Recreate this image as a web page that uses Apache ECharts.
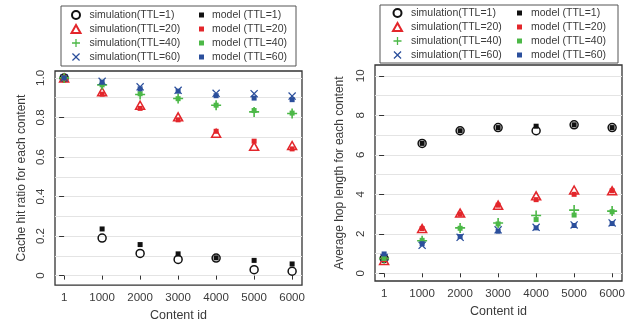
<!DOCTYPE html>
<html>
<head>
<meta charset="utf-8">
<script src="https://cdn.jsdelivr.net/npm/echarts@6/dist/echarts.min.js"></script>
<style>
  html, body { margin: 0; padding: 0; background: #fff; }
  #chart { width: 639px; height: 327px; }
</style>
</head>
<body>
<div id="chart"></div>
<script>
// x categories (content id)
const categories = ['1', '1000', '2000', '3000', '4000', '5000', '6000'];

// left panel: cache hit ratio
const hitSimTTL1 = [1.0, 0.19, 0.112, 0.082, 0.089, 0.03, 0.022];
const hitModelTTL1 = [1.0, 0.236, 0.157, 0.11, 0.09, 0.077, 0.059];
const hitSimTTL20 = [1.0, 0.93, 0.862, 0.803, 0.72, 0.654, 0.658];
const hitModelTTL20 = [1.0, 0.918, 0.846, 0.788, 0.73, 0.68, 0.641];
const hitSimTTL40 = [1.0, 0.965, 0.916, 0.896, 0.862, 0.828, 0.82];
const hitModelTTL40 = [1.0, 0.965, 0.92, 0.895, 0.862, 0.835, 0.822];
const hitSimTTL60 = [1.0, 0.983, 0.955, 0.937, 0.922, 0.92, 0.908];
const hitModelTTL60 = [1.0, 0.978, 0.945, 0.933, 0.91, 0.898, 0.89];

// right panel: average hop length
const hopSimTTL1 = [0.75, 6.58, 7.22, 7.38, 7.22, 7.52, 7.38];
const hopModelTTL1 = [0.8, 6.58, 7.22, 7.38, 7.45, 7.52, 7.38];
const hopSimTTL20 = [0.65, 2.27, 3.05, 3.45, 3.92, 4.22, 4.18];
const hopModelTTL20 = [0.7, 2.27, 3.0, 3.45, 3.73, 4.0, 4.18];
const hopSimTTL40 = [0.75, 1.65, 2.3, 2.55, 2.93, 3.2, 3.15];
const hopModelTTL40 = [0.75, 1.67, 2.28, 2.5, 2.72, 2.95, 3.12];
const hopSimTTL60 = [0.8, 1.42, 1.82, 2.2, 2.33, 2.45, 2.55];
const hopModelTTL60 = [0.98, 1.5, 1.86, 2.13, 2.3, 2.42, 2.52];

// tick labels and grid lines
const hitTicks = [0, 0.2, 0.4, 0.6, 0.8, 1.0];
const hitGrid = [0, 0.1, 0.2, 0.3, 0.4, 0.5, 0.6, 0.7, 0.8, 0.9, 1.0];
const hopTicks = [0, 2, 4, 6, 8, 10];
const hopGrid = [0, 1, 2, 3, 4, 5, 6, 7, 8, 9, 10];

const simNames = ['simulation(TTL=1)', 'simulation(TTL=20)', 'simulation(TTL=40)', 'simulation(TTL=60)'];
const modelNames = ['model (TTL=1)', 'model (TTL=20)', 'model (TTL=40)', 'model (TTL=60)'];

const FONT = '"Liberation Sans", Arial, sans-serif';
const TXT = '#3a3a3a';
const BLACK = '#111111';
const RED = '#e3262b';
const GREEN = '#4cb847';
const BLUE = '#2b4f9c';
const PLUS = 'path://M4.2,0H5.8V4.2H10V5.8H5.8V10H4.2V5.8H0V4.2H4.2Z';
const CROSS = 'path://M0,1.1L1.1,0L5,3.9L8.9,0L10,1.1L6.1,5L10,8.9L8.9,10L5,6.1L1.1,10L0,8.9L3.9,5Z';

const toPoints = (vals) => vals.map((v, i) => [i, v]);
const idx = categories.map((c, i) => i);

function xAxisFor(gridIndex) {
  return {
    type: 'value', gridIndex, min: -0.24, max: 6.26,
    name: 'Content id', nameLocation: 'middle', nameGap: 22,
    nameTextStyle: { fontFamily: FONT, fontSize: 12.5, color: TXT },
    axisLine: { show: false },
    axisTick: { show: true, length: 4, customValues: idx, lineStyle: { color: '#333', width: 1 } },
    axisLabel: {
      customValues: idx, margin: 7, fontFamily: FONT, fontSize: 11.5, color: TXT,
      formatter: (v) => categories[Math.round(v)]
    },
    splitLine: { show: false }
  };
}

function yAxisFor(gridIndex, min, max, ticks, name, nameGap, fmt) {
  return {
    type: 'value', gridIndex, min, max, position: 'left',
    name, nameLocation: 'middle', nameGap,
    nameTextStyle: { fontFamily: FONT, fontSize: 12, color: TXT },
    axisLine: { show: false },
    axisTick: { show: true, length: 5, customValues: ticks, lineStyle: { color: '#333', width: 1 } },
    axisLabel: {
      customValues: ticks, rotate: 90, margin: 8, fontFamily: FONT, fontSize: 11.5, color: TXT,
      formatter: fmt
    },
    splitLine: { show: false }
  };
}

// hidden axis only for the light grid lines
function gridAxisFor(gridIndex, min, max, lines) {
  return {
    type: 'value', gridIndex, min, max, position: 'left',
    axisLine: { show: false },
    axisTick: { show: false, customValues: lines },
    axisLabel: { show: false },
    splitLine: { show: true, lineStyle: { color: '#e4e4e4', width: 1 } }
  };
}

function simSeries(name, data, x, y, symbol, color, size) {
  const filled = symbol === PLUS || symbol === CROSS;
  return {
    name, type: 'scatter', xAxisIndex: x, yAxisIndex: y,
    data: toPoints(data), symbol, symbolSize: size,
    itemStyle: filled
      ? { color, opacity: 1 }
      : { color: 'rgba(255,255,255,0)', borderColor: color, borderWidth: 1.5, opacity: 1 },
    emphasis: { disabled: true }, z: 3
  };
}

function modelSeries(name, data, x, y, color) {
  return {
    name, type: 'scatter', xAxisIndex: x, yAxisIndex: y,
    data: toPoints(data), symbol: 'rect', symbolSize: 5,
    itemStyle: { color, opacity: 1 },
    emphasis: { disabled: true }, z: 4
  };
}

function panelSeries(x, y, s1, m1, s20, m20, s40, m40, s60, m60) {
  return [
    simSeries(simNames[0], s1, x, y, 'circle', BLACK, 8),
    simSeries(simNames[1], s20, x, y, 'triangle', RED, [9, 8]),
    simSeries(simNames[2], s40, x, y, PLUS, GREEN, 10),
    simSeries(simNames[3], s60, x, y, CROSS, BLUE, 8),
    modelSeries(modelNames[0], m1, x, y, BLACK),
    modelSeries(modelNames[1], m20, x, y, RED),
    modelSeries(modelNames[2], m40, x, y, GREEN),
    modelSeries(modelNames[3], m60, x, y, BLUE)
  ];
}

function legendFor(names, left, top, w, h, pad) {
  return {
    data: names, orient: 'vertical', left, top, padding: 0,
    itemWidth: w, itemHeight: h, itemGap: 0,
    selectedMode: false,
    textStyle: { fontFamily: FONT, fontSize: 10.5, color: TXT, lineHeight: 14, padding: [0, 0, 0, pad] }
  };
}

const chart = echarts.init(document.getElementById('chart'), null, { renderer: 'canvas' });

chart.setOption({
  backgroundColor: '#ffffff',
  animation: false,
  grid: [
    { left: 55, top: 71, width: 247, height: 215, show: true, borderColor: '#333', borderWidth: 1.3, backgroundColor: 'transparent' },
    { left: 375, top: 65, width: 247, height: 216, show: true, borderColor: '#333', borderWidth: 1.3, backgroundColor: 'transparent' }
  ],
  xAxis: [xAxisFor(0), xAxisFor(1)],
  yAxis: [
    yAxisFor(0, -0.048, 1.035, hitTicks, 'Cache hit ratio for each content', 27,
      (v) => (v === 0 ? '0' : v.toFixed(1))),
    gridAxisFor(0, -0.048, 1.035, hitGrid),
    yAxisFor(1, -0.39, 10.55, hopTicks, 'Average hop length for each content', 29,
      (v) => String(v)),
    gridAxisFor(1, -0.39, 10.55, hopGrid)
  ],
  legend: [
    legendFor(simNames, 70.5, 8, 9, 8, 4),
    legendFor(modelNames, 199, 8, 5, 5, 3),
    legendFor(simNames, 392, 6, 9, 8, 4),
    legendFor(modelNames, 517, 6, 5, 5, 4)
  ],
  graphic: [
    { type: 'rect', shape: { x: 61, y: 6, width: 235, height: 60 }, style: { fill: 'none', stroke: '#555', lineWidth: 1 }, silent: true },
    { type: 'rect', shape: { x: 380, y: 5, width: 238, height: 58 }, style: { fill: 'none', stroke: '#555', lineWidth: 1 }, silent: true }
  ],
  series: [].concat(
    panelSeries(0, 0, hitSimTTL1, hitModelTTL1, hitSimTTL20, hitModelTTL20,
      hitSimTTL40, hitModelTTL40, hitSimTTL60, hitModelTTL60),
    panelSeries(1, 2, hopSimTTL1, hopModelTTL1, hopSimTTL20, hopModelTTL20,
      hopSimTTL40, hopModelTTL40, hopSimTTL60, hopModelTTL60)
  )
});

window.addEventListener('resize', () => chart.resize());
</script>
</body>
</html>
